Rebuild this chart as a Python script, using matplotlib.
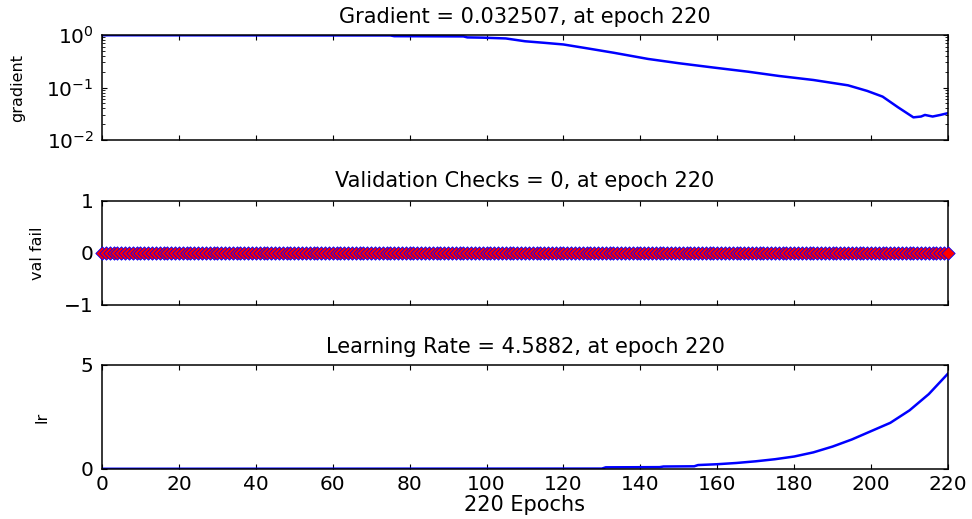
import matplotlib
matplotlib.use("Agg")
import matplotlib.pyplot as plt
from matplotlib.ticker import LogLocator, NullFormatter, FixedLocator

plt.rcParams['font.family'] = ['DejaVu Sans']
plt.rcParams['mathtext.fontset'] = 'dejavusans'

# ---- data ----
grad_epochs = [0, 75, 76, 94, 95, 99, 105, 110, 115, 120, 126, 133, 142, 150,
               159, 168, 176, 185, 194, 199, 203, 207, 211, 213, 214, 216, 218, 220]
grad_values = [0.99, 0.98, 0.95, 0.94, 0.90, 0.89, 0.86, 0.76, 0.71, 0.66, 0.56, 0.46,
               0.35, 0.29, 0.24, 0.20, 0.166, 0.139, 0.11, 0.086, 0.067, 0.042, 0.027,
               0.028, 0.030, 0.028, 0.030, 0.0325]

val_epochs = list(range(221))
val_fail = [0] * 221

lr_epochs = [0, 130, 131, 145, 146, 154, 155, 160, 165, 170, 175, 180, 185, 190,
             195, 200, 205, 210, 215, 220]
lr_values = [0.01, 0.02, 0.08, 0.09, 0.12, 0.13, 0.19, 0.23, 0.29, 0.37, 0.47, 0.60,
             0.80, 1.08, 1.42, 1.82, 2.22, 2.82, 3.60, 4.5882]

xticks = [0, 20, 40, 60, 80, 100, 120, 140, 160, 180, 200, 220]

FS_TICK = 14.5
FS_TITLE = 15
FS_XLAB = 15
FS_YLAB = 11.5
fig = plt.figure(figsize=(9.72, 5.19), dpi=100)
W = 972.0
H = 519.0
left = 102 / W
width = (948 - 102) / W

def make_ax(top_px, bot_px):
    return fig.add_axes([left, 1 - bot_px / H, width, (bot_px - top_px) / H])

ax1 = make_ax(35, 140)
ax2 = make_ax(201, 305)
ax3 = make_ax(365, 469)

for ax in (ax1, ax2, ax3):
    ax.set_xlim(0, 220)
    ax.xaxis.set_major_locator(FixedLocator(xticks))
    ax.tick_params(direction='in', top=True, right=True, length=3.6, width=0.8,
                   labelsize=FS_TICK)
    ax.tick_params(axis='x', pad=4)
    ax.tick_params(axis='y', pad=6)
    ax.tick_params(which='minor', direction='in', top=True, right=True, length=2.2, width=0.6)
    for s in ax.spines.values():
        s.set_linewidth(1.1)

# gradient
ax1.semilogy(grad_epochs, grad_values, color='#0000ff', lw=1.8)
ax1.set_ylim(1e-2, 1e0)
ax1.yaxis.set_major_locator(LogLocator(base=10, numticks=5))
ax1.yaxis.set_minor_locator(LogLocator(base=10, subs=range(2, 10), numticks=20))
ax1.yaxis.set_minor_formatter(NullFormatter())
ax1.set_xticklabels([])
ax1.set_title('Gradient = 0.032507, at epoch 220', fontsize=FS_TITLE, pad=8.6)
ax1.set_ylabel('gradient', fontsize=FS_YLAB)

# validation
ax2.scatter(val_epochs, val_fail, marker='D', s=6.8 ** 2, facecolor='#ff0000',
            edgecolor='#0000ff', linewidths=0.6, clip_on=False, zorder=3)
ax2.set_ylim(-1, 1)
ax2.set_yticks([-1, 0, 1])
ax2.set_xticklabels([])
ax2.set_title('Validation Checks = 0, at epoch 220', fontsize=FS_TITLE, pad=10.4)
ax2.set_ylabel('val fail', fontsize=FS_YLAB)

# learning rate
ax3.plot(lr_epochs, lr_values, color='#0000ff', lw=1.8)
ax3.set_ylim(0, 5)
ax3.set_yticks([0, 5])
ax3.set_title('Learning Rate = 4.5882, at epoch 220', fontsize=FS_TITLE, pad=8.6)
ax3.set_ylabel('lr', fontsize=FS_YLAB)
ax3.set_xlabel('220 Epochs', fontsize=FS_XLAB, labelpad=1)

ax1.yaxis.set_label_coords((25 - 102) / 846, 0.5)
ax2.yaxis.set_label_coords((45 - 102) / 846, 0.5)
ax3.yaxis.set_label_coords((50 - 102) / 846, 0.5)

fig.savefig('out.png', dpi=100)
